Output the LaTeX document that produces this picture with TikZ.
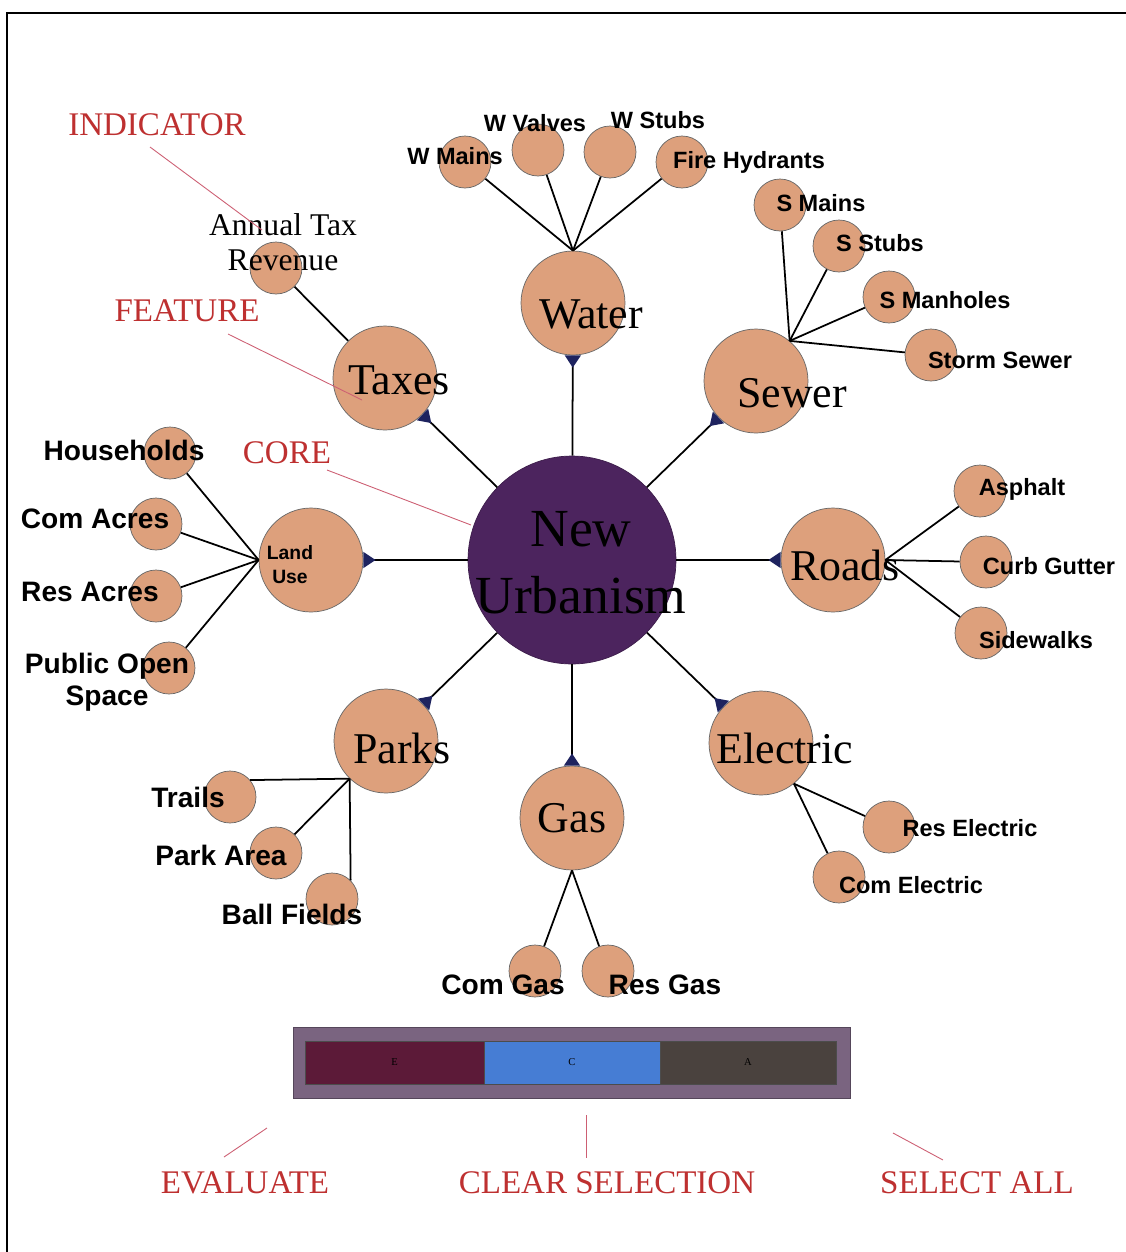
\documentclass[tikz,border=0pt]{standalone}
\usepackage{fontspec}
\setmainfont{Liberation Serif}
\setsansfont{Liberation Sans}
\usepackage{tikz}
\usetikzlibrary{arrows.meta,calc}
\definecolor{peach}{RGB}{221,160,124}
\definecolor{corebg}{RGB}{76,36,94}
\definecolor{notered}{RGB}{190,48,48}
\definecolor{noteline}{RGB}{205,95,115}
\definecolor{tipblue}{RGB}{30,35,95}
\definecolor{barbg}{RGB}{122,100,128}
\definecolor{barE}{RGB}{92,26,56}
\definecolor{barC}{RGB}{70,125,212}
\definecolor{barA}{RGB}{74,66,62}

\begin{document}
\begin{tikzpicture}[x=0.02cm, y=-0.02cm,
    core/.style={circle, fill=corebg, draw=corebg!80!black, minimum size=4.16cm, inner sep=0pt},
    feature/.style={circle, fill=peach, draw=black!60, thin, minimum size=2.08cm, inner sep=0pt},
    indicator/.style={circle, fill=peach, draw=black!60, thin, minimum size=1.04cm, inner sep=0pt},
    ftext/.style={font=\fontsize{25}{28}\selectfont, inner sep=0pt},
    itext/.style={font=\sffamily\bfseries\fontsize{16}{18}\selectfont, inner sep=0pt, align=center},
    stext/.style={font=\sffamily\bfseries\fontsize{13.4}{16}\selectfont, inner sep=0pt},
    note/.style={text=notered, font=\fontsize{18.8}{22}\selectfont, inner sep=0pt},
    spoke/.style={line width=1pt, -{Triangle[reversed, length=7pt, width=9pt, color=tipblue]}},
    twig/.style={line width=1pt},
    pointer/.style={draw=noteline, line width=0.5pt},
    seg/.style={draw=black!70, minimum height=0.86cm, inner sep=0pt, font=\fontsize{6}{7}\selectfont},
]
    \useasboundingbox (0,0) rectangle (1126,1252);
    \fill[white] (0,0) rectangle (1126,1252);
    \draw[line width=1.2pt] (7,1252) -- (7,13) -- (1126,13);

    % core and features
    \node[core] (core) at (572,560) {};
    \node[feature] (water) at (573,303) {};
    \node[feature] (sewer) at (756,381) {};
    \node[feature] (roads) at (833,560) {};
    \node[feature] (electric) at (761,743) {};
    \node[feature] (gas) at (572,818) {};
    \node[feature] (parks) at (386,741) {};
    \node[feature] (landuse) at (311,560) {};
    \node[feature] (taxes) at (385,378) {};

    % indicators
    \node[indicator] (taxrev) at (276,268) {};
    \node[indicator] (wmains) at (465,162) {};
    \node[indicator] (wvalves) at (538,150) {};
    \node[indicator] (wstubs) at (610,152) {};
    \node[indicator] (hydrants) at (682,162) {};
    \node[indicator] (smains) at (780,205) {};
    \node[indicator] (sstubs) at (839,246) {};
    \node[indicator] (smanholes) at (889,297) {};
    \node[indicator] (storm) at (931,355) {};
    \node[indicator] (asphalt) at (980,491) {};
    \node[indicator] (curb) at (986,562) {};
    \node[indicator] (sidewalks) at (981,633) {};
    \node[indicator] (reselec) at (889,827) {};
    \node[indicator] (comelec) at (839,877) {};
    \node[indicator] (comgas) at (535,971) {};
    \node[indicator] (resgas) at (608,971) {};
    \node[indicator] (trails) at (230,797) {};
    \node[indicator] (parkarea) at (276,853) {};
    \node[indicator] (ballfields) at (332,899) {};
    \node[indicator] (households) at (170,453) {};
    \node[indicator] (comacres) at (156,524) {};
    \node[indicator] (resacres) at (156,596) {};
    \node[indicator] (openspace) at (169,668) {};

    % connectors
    \foreach \f in {water,sewer,roads,electric,gas,parks,landuse,taxes}
        \draw[spoke] (core) -- (\f);
    \draw[twig] (taxes) -- (taxrev);
    \foreach \i in {wmains,wvalves,wstubs,hydrants}
        \draw[twig] (water.north) -- (\i);
    \foreach \i in {smains,sstubs,smanholes,storm}
        \draw[twig] (sewer.50) -- (\i);
    \foreach \i in {asphalt,curb,sidewalks}
        \draw[twig] (roads.east) -- (\i);
    \foreach \i in {reselec,comelec}
        \draw[twig] (electric.-51) -- (\i);
    \foreach \i in {comgas,resgas}
        \draw[twig] (gas.south) -- (\i);
    \foreach \i in {households,comacres,resacres,openspace}
        \draw[twig] (landuse.west) -- (\i);
    \draw[twig] (parks.226) -- (trails.40);
    \draw[twig] (parks.226) -- (parkarea);
    \draw[twig] (parks.226) -- (ballfields.45);

    % labels
    \node[font=\fontsize{30.5}{38}\selectfont, align=center, inner sep=0pt] (t-core) at (581,563) {New\\Urbanism};
    \node[ftext] (t-water) at (591,314) {Water};
    \node[ftext] (t-sewer) at (792,393) {Sewer};
    \node[ftext] (t-roads) at (845,565) {Roads};
    \node[ftext] (t-electric) at (785,748) {Electric};
    \node[ftext] (t-gas) at (572,818) {Gas};
    \node[ftext] (t-parks) at (402,748) {Parks};
    \node[ftext] (t-taxes) at (399,380) {Taxes};
    \node[itext, font=\sffamily\bfseries\fontsize{11}{13.6}\selectfont] (t-landuse) at (290,565) {Land\\Use};

    \node[font=\fontsize{18}{20}\selectfont, align=center, inner sep=0pt] (t-taxrev) at (283,242) {Annual Tax\\Revenue};
    \node[stext] (t-wmains) at (455,156) {W Mains};
    \node[stext] (t-wvalves) at (535,123) {W Valves};
    \node[stext] (t-wstubs) at (658,120) {W Stubs};
    \node[stext] (t-hydrants) at (749,162) {Fire Hydrants};
    \node[stext] (t-smains) at (821,203) {S Mains};
    \node[stext] (t-sstubs) at (880,243) {S Stubs};
    \node[stext] (t-smanholes) at (945,300) {S Manholes};
    \node[stext] (t-storm) at (1000,360) {Storm Sewer};
    \node[stext] (t-asphalt) at (1022,489) {Asphalt};
    \node[stext] (t-curb) at (1049,566) {Curb Gutter};
    \node[stext] (t-sidewalks) at (1036,640) {Sidewalks};
    \node[stext] (t-reselec) at (970,828) {Res Electric};
    \node[stext] (t-comelec) at (911,885) {Com Electric};
    \node[itext] (t-comgas) at (503,985) {Com Gas};
    \node[itext] (t-resgas) at (665,985) {Res Gas};
    \node[itext] (t-trails) at (188,797) {Trails};
    \node[itext] (t-parkarea) at (221,855) {Park Area};
    \node[itext] (t-ballfields) at (292,914) {Ball Fields};
    \node[itext] (t-households) at (124,450) {Households};
    \node[itext] (t-comacres) at (95,519) {Com Acres};
    \node[itext] (t-resacres) at (90,592) {Res Acres};
    \node[itext] (t-openspace) at (107,682) {Public Open\\Space};

    % notes
    \node[note] (indicator) at (157,125) {INDICATOR};
    \node[note] (feature) at (187,311) {FEATURE};
    \node[note] (corenote) at (287,453) {CORE};
    \coordinate (ind-a) at (150,147);
    \coordinate (ind-b) at (262,230);
    \coordinate (fea-a) at (228,334);
    \coordinate (fea-b) at (362,400);
    \coordinate (cor-a) at (327,470);
    \coordinate (cor-b) at (471,525);
    \draw[pointer] (ind-a) -- (ind-b);
    \draw[pointer] (fea-a) -- (fea-b);
    \draw[pointer] (cor-a) -- (cor-b);

    % selection bar
    \node[draw=barbg!70!black, fill=barbg, minimum width=11.14cm, minimum height=1.42cm, inner sep=0pt] (bar) at (571.5,1062.5) {};
    \node[seg, fill=barE, minimum width=3.58cm] (segE) at (394.5,1062.5) {E};
    \node[seg, fill=barC, minimum width=3.52cm] (segC) at (572,1062.5) {C};
    \node[seg, fill=barA, minimum width=3.52cm] (segA) at (748,1062.5) {A};

    \node[note] (evaluate) at (245,1183) {EVALUATE};
    \node[note] (clear) at (607,1183) {CLEAR SELECTION};
    \node[note] (selectall) at (977,1183) {SELECT ALL};
    \coordinate (eva-a) at (267,1128);
    \coordinate (eva-b) at (224,1157);
    \coordinate (clr-a) at (586,1115);
    \coordinate (clr-b) at (586,1158);
    \coordinate (sel-a) at (893,1133);
    \coordinate (sel-b) at (943,1160);
    \draw[pointer] (eva-a) -- (eva-b);
    \draw[pointer] (clr-a) -- (clr-b);
    \draw[pointer] (sel-a) -- (sel-b);
\end{tikzpicture}
\end{document}
